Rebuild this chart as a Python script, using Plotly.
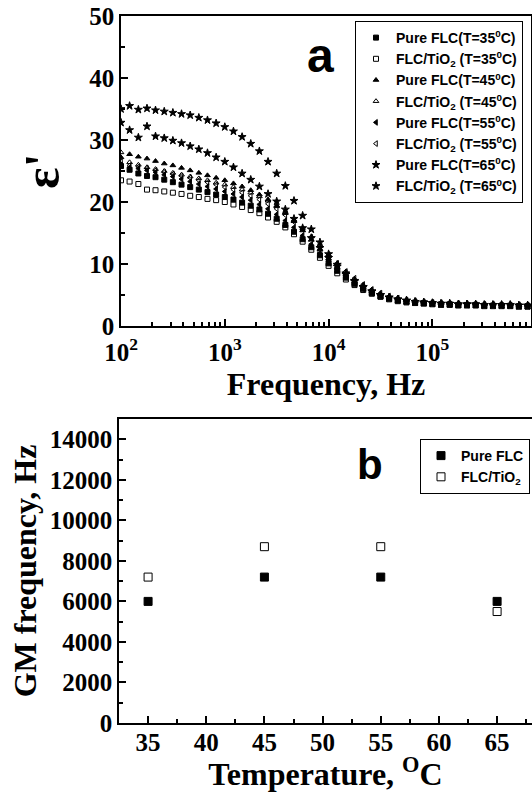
import plotly.graph_objects as go

# ---------------- data: panel a ----------------
freq = [100, 121, 147, 178, 215, 261, 316, 383, 464, 562, 681, 825,
        1000, 1212, 1468, 1778, 2154, 2610, 3162, 3831, 4642, 5623, 6813, 8254,
        10000, 12115, 14678, 17783, 21544, 26102, 31623, 38312, 46416, 56234, 68129, 82540,
        100000, 121153, 146780, 177828, 215443, 261016, 316228, 383119, 464159, 562341, 681292, 825404]

pure_35 = [25.8, 25.2, 24.6, 24.2, 24.0, 23.6, 23.2, 22.8, 22.4, 22.0, 21.6, 21.2,
           20.8, 20.4, 19.9, 19.4, 18.8, 18.1, 17.3, 16.3, 15.2, 14.0, 12.7, 11.4,
           10.1, 8.9, 7.8, 6.8, 6.0, 5.3, 4.8, 4.4, 4.1, 3.9, 3.8, 3.7,
           3.6, 3.5, 3.5, 3.4, 3.4, 3.4, 3.3, 3.3, 3.3, 3.3, 3.2, 3.2]
tio2_35 = [23.5, 23.3, 22.9, 22.0, 21.9, 21.7, 21.5, 21.3, 21.0, 20.8, 20.5, 20.3,
           20.0, 19.6, 19.2, 18.7, 18.2, 17.5, 16.8, 15.9, 14.8, 13.6, 12.3, 11.0,
           9.7, 8.5, 7.5, 6.6, 5.8, 5.2, 4.7, 4.3, 4.0, 3.8, 3.7, 3.6,
           3.5, 3.4, 3.4, 3.3, 3.3, 3.3, 3.2, 3.2, 3.2, 3.2, 3.1, 3.1]
pure_45 = [27.2, 27.7, 27.3, 27.0, 26.6, 26.2, 25.9, 25.5, 25.1, 24.7, 24.3, 23.9,
           23.5, 23.0, 22.5, 21.9, 21.2, 20.4, 19.4, 18.2, 16.9, 15.4, 13.9, 12.4,
           10.9, 9.5, 8.3, 7.2, 6.3, 5.6, 5.1, 4.7, 4.4, 4.2, 4.0, 3.9,
           3.8, 3.7, 3.7, 3.6, 3.6, 3.6, 3.5, 3.5, 3.5, 3.5, 3.4, 3.4]
tio2_45 = [28.0, 26.4, 26.0, 25.6, 25.3, 25.0, 24.7, 24.4, 24.1, 23.8, 23.5, 23.1,
           22.8, 22.4, 22.0, 21.5, 20.9, 20.2, 19.3, 18.3, 17.1, 15.8, 14.4, 13.0,
           11.5, 10.1, 8.8, 7.6, 6.6, 5.8, 5.2, 4.8, 4.5, 4.2, 4.0, 3.9,
           3.8, 3.7, 3.7, 3.6, 3.6, 3.6, 3.5, 3.5, 3.5, 3.5, 3.4, 3.4]
pure_55 = [26.0, 25.6, 25.4, 25.1, 24.8, 24.4, 24.1, 23.7, 23.3, 22.9, 22.5, 22.1,
           21.7, 21.3, 20.8, 20.3, 19.6, 18.9, 18.0, 17.0, 15.9, 14.6, 13.2, 11.8,
           10.4, 9.1, 7.9, 6.9, 6.0, 5.4, 4.9, 4.5, 4.2, 4.0, 3.8, 3.7,
           3.6, 3.5, 3.5, 3.5, 3.4, 3.4, 3.4, 3.4, 3.3, 3.3, 3.3, 3.3]
tio2_55 = [26.5, 25.9, 25.7, 25.4, 25.1, 24.8, 24.5, 24.2, 23.9, 23.5, 23.2, 22.8,
           22.4, 22.0, 21.5, 21.0, 20.4, 19.7, 18.9, 17.9, 16.8, 15.6, 14.3, 12.9,
           11.5, 10.1, 8.8, 7.7, 6.7, 5.9, 5.3, 4.8, 4.5, 4.2, 4.0, 3.9,
           3.8, 3.7, 3.6, 3.6, 3.5, 3.5, 3.5, 3.5, 3.4, 3.4, 3.4, 3.4]
pure_65 = [35.0, 35.5, 34.9, 35.1, 34.8, 34.6, 34.4, 34.2, 34.0, 33.6, 33.2, 32.7,
           32.1, 31.4, 30.5, 29.4, 28.2, 26.5, 24.6, 22.6, 20.2, 17.8, 15.6, 13.5,
           11.6, 9.9, 8.5, 7.3, 6.3, 5.6, 5.0, 4.6, 4.3, 4.1, 3.9, 3.8,
           3.7, 3.6, 3.6, 3.5, 3.5, 3.5, 3.4, 3.4, 3.4, 3.4, 3.3, 3.3]
tio2_65 = [32.8, 31.6, 30.4, 32.2, 30.6, 30.3, 29.9, 29.5, 29.0, 28.5, 27.9, 27.2,
           26.5, 25.6, 24.6, 23.6, 22.5, 21.3, 20.1, 18.8, 17.3, 15.8, 14.2, 12.6,
           11.0, 9.6, 8.3, 7.2, 6.3, 5.6, 5.0, 4.6, 4.3, 4.1, 3.9, 3.8,
           3.7, 3.6, 3.6, 3.5, 3.5, 3.5, 3.4, 3.4, 3.4, 3.4, 3.3, 3.3]

# ---------------- data: panel b ----------------
temps = [35, 45, 55, 65]
gm_pure = [6000, 7200, 7200, 6000]
gm_tio2 = [7200, 8700, 8700, 5500]

freq_tickvals = [100, 1000, 10000, 100000]
freq_ticktext = ["10<sup>2</sup>", "10<sup>3</sup>", "10<sup>4</sup>", "10<sup>5</sup>"]

series_a = [
    ("Pure FLC(T=35<sup>0</sup>C)", pure_35, "square", 5),
    ("FLC/TiO<sub>2</sub> (T=35<sup>0</sup>C)", tio2_35, "square-open", 5),
    ("Pure FLC(T=45<sup>0</sup>C)", pure_45, "triangle-up", 5),
    ("FLC/TiO<sub>2</sub> (T=45<sup>0</sup>C)", tio2_45, "triangle-up-open", 5),
    ("Pure FLC(T=55<sup>0</sup>C)", pure_55, "triangle-left", 5),
    ("FLC/TiO<sub>2</sub> (T=55<sup>0</sup>C)", tio2_55, "triangle-left-open", 5),
    ("Pure FLC(T=65<sup>0</sup>C)", pure_65, "star", 6),
    ("FLC/TiO<sub>2</sub> (T=65<sup>0</sup>C)", tio2_65, "star", 6),
]

W, H = 532, 792
serif = "Liberation Serif, Times New Roman, serif"
sans = "Liberation Sans, Arial, sans-serif"

fig = go.Figure()
for i, (name, vals, sym, sz) in enumerate(series_a):
    fig.add_trace(go.Scatter(
        x=freq, y=vals, mode="markers", name=name,
        marker=dict(symbol=sym, size=sz, color="black",
                    line=dict(color="black", width=1)),
        xaxis="x", yaxis="y", legend="legend", legendgroup=f"g{i}"))

fig.add_trace(go.Scatter(
    x=temps, y=gm_pure, mode="markers", name="Pure FLC",
    marker=dict(symbol="square", size=8, color="black", line=dict(color="black", width=1)),
    xaxis="x2", yaxis="y2", legend="legend2"))
fig.add_trace(go.Scatter(
    x=temps, y=gm_tio2, mode="markers", name="FLC/TiO<sub>2</sub>",
    marker=dict(symbol="square-open", size=8, color="black", line=dict(color="black", width=1)),
    xaxis="x2", yaxis="y2", legend="legend2"))

tickfont = dict(family=serif, size=25, color="black", weight="bold")
titlefont = dict(family=serif, size=32, color="black", weight="bold")
axcommon = dict(showline=True, linecolor="black", linewidth=1.5, ticks="inside",
                tickcolor="black", tickwidth=1.5, ticklen=7, showgrid=False,
                zeroline=False, tickfont=tickfont, automargin=False)

fig.update_layout(
    width=W, height=H, margin=dict(l=0, r=0, t=0, b=0),
    paper_bgcolor="white", plot_bgcolor="white",
    xaxis=dict(type="log", range=[2, 5.95], domain=[121 / W, 531 / W], anchor="y",
               tickvals=freq_tickvals, ticktext=freq_ticktext, mirror=True,
               ticklabelstandoff=3,
               minor=dict(ticks="inside", ticklen=4, tickcolor="black", dtick="D1", showgrid=False),
               title=dict(text="Frequency, Hz", font=titlefont, standoff=0),
               **axcommon),
    yaxis=dict(range=[0, 50], domain=[(H - 326) / H, (H - 16) / H], anchor="x",
               dtick=10, mirror=True,
               minor=dict(ticks="inside", ticklen=4, tickcolor="black", dtick=5, showgrid=False),
               title=dict(text="ε'", font=dict(family=serif, size=50, color="black", weight="bold"),
                          standoff=14),
               **axcommon),
    xaxis2=dict(range=[32.5, 68.0], domain=[119 / W, 1.0], anchor="y2",
                dtick=5, tick0=35, mirror=True, ticklabelstandoff=-4,
                minor=dict(ticks="inside", ticklen=4, tickcolor="black", dtick=2.5, showgrid=False),
                title=dict(text="Temperature, <sup>O</sup>C", font=titlefont, standoff=8),
                **axcommon),
    yaxis2=dict(range=[0, 15000], domain=[(H - 723) / H, (H - 419) / H], anchor="x2",
                dtick=2000, mirror=False, tickformat="d",
                minor=dict(ticks="inside", ticklen=4, tickcolor="black", dtick=1000, showgrid=False),
                title=dict(text="GM frequency, Hz", font=titlefont, standoff=4),
                **axcommon),
    legend=dict(x=355 / W, y=(H - 21) / H, xanchor="left", yanchor="top",
                bgcolor="white", bordercolor="black", borderwidth=1,
                font=dict(family=sans, size=14, color="black", weight="bold"),
                traceorder="grouped", tracegroupgap=0, itemwidth=30),
    legend2=dict(x=420 / W, y=(H - 439) / H, xanchor="left", yanchor="top",
                 bgcolor="white", bordercolor="black", borderwidth=1,
                 font=dict(family=sans, size=14, color="black", weight="bold"),
                 itemwidth=30),
    showlegend=True,
    annotations=[
        dict(text="a", x=320 / W, y=(H - 27) / H, xref="paper", yref="paper",
             showarrow=False, font=dict(family=sans, size=48, color="black", weight="bold")),
        dict(text="b", x=385 / W, y=(H - 464) / H, xref="paper", yref="paper",
             showarrow=False, font=dict(family=sans, size=42, color="black", weight="bold")),
    ],
)

fig.write_html("out.html", config={"displayModeBar": False},
               post_script="document.body.style.margin='0px';document.body.style.overflow='hidden';")
